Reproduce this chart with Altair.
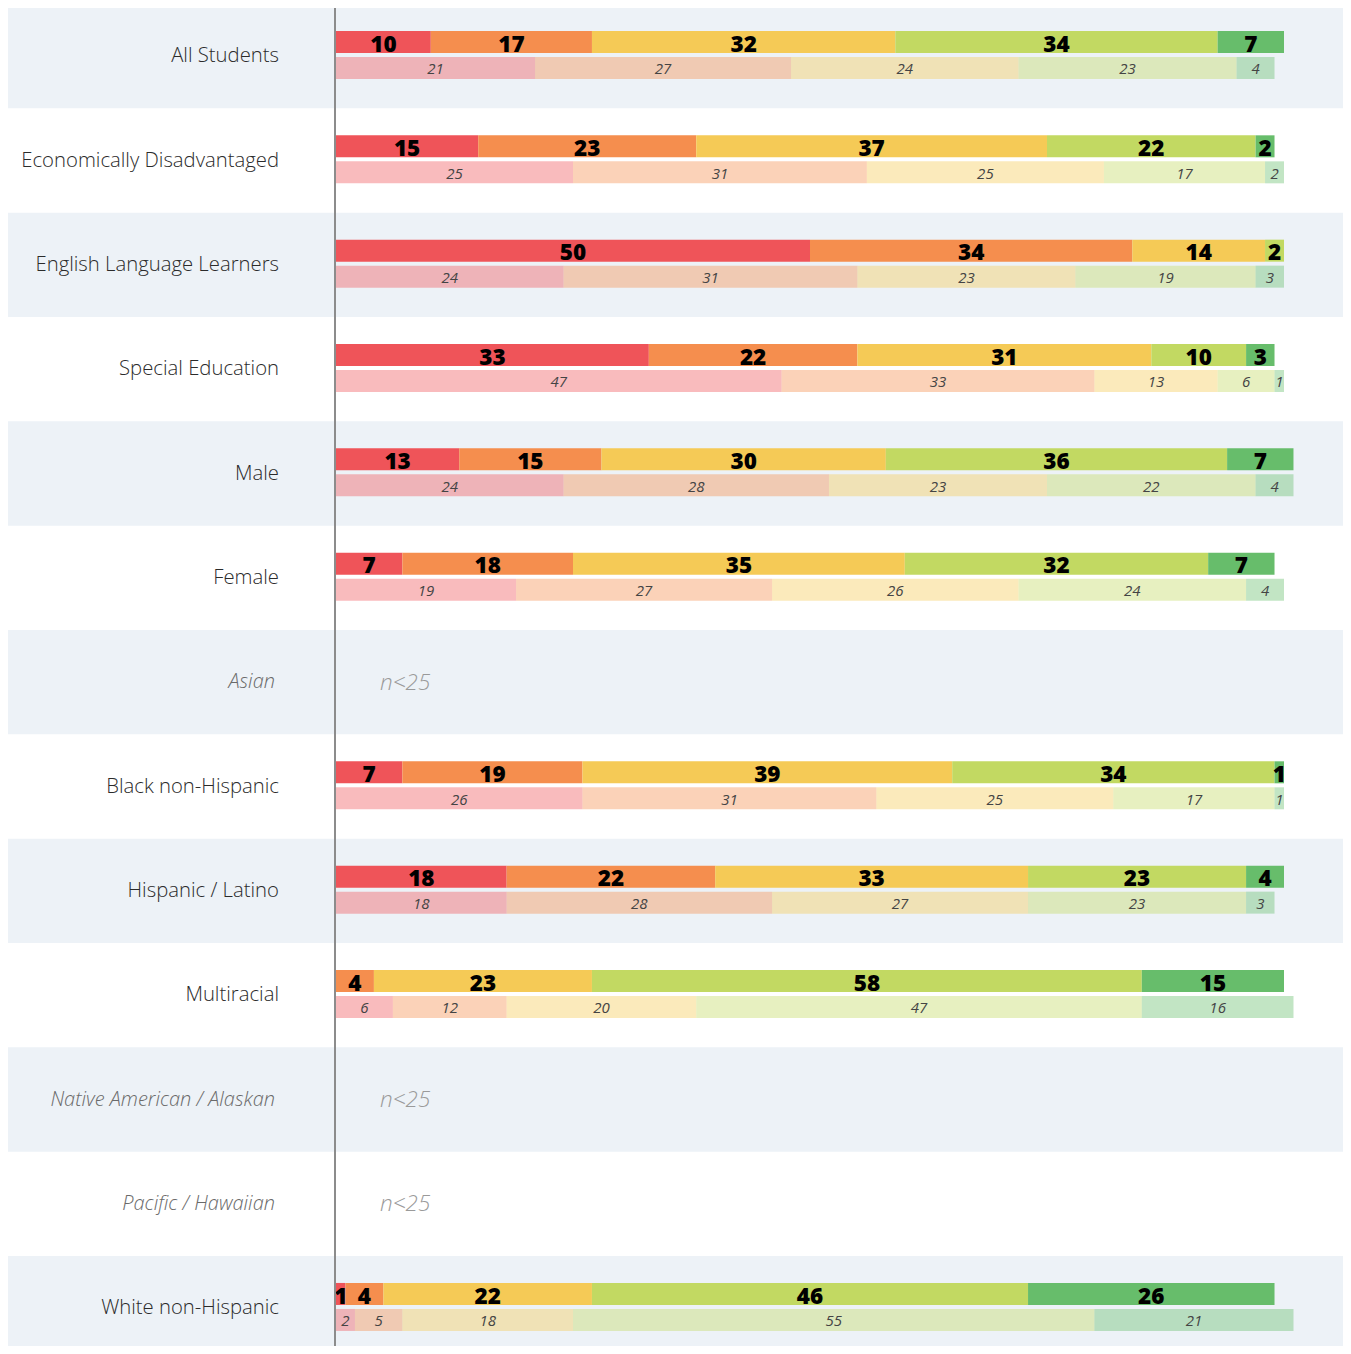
import altair as alt
import pandas as pd

# ---- data ----
groups = [
    "All Students", "Economically Disadvantaged", "English Language Learners",
    "Special Education", "Male", "Female", "Asian", "Black non-Hispanic",
    "Hispanic / Latino", "Multiracial", "Native American / Alaskan",
    "Pacific / Hawaiian", "White non-Hispanic",
]
current_pct = [
    [10, 17, 32, 34, 7],
    [15, 23, 37, 22, 2],
    [50, 34, 14, 2, 0],
    [33, 22, 31, 10, 3],
    [13, 15, 30, 36, 7],
    [7, 18, 35, 32, 7],
    None,
    [7, 19, 39, 34, 1],
    [18, 22, 33, 23, 4],
    [0, 4, 23, 58, 15],
    None,
    None,
    [1, 4, 22, 46, 26],
]
prior_pct = [
    [21, 27, 24, 23, 4],
    [25, 31, 25, 17, 2],
    [24, 31, 23, 19, 3],
    [47, 33, 13, 6, 1],
    [24, 28, 23, 22, 4],
    [19, 27, 26, 24, 4],
    None,
    [26, 31, 25, 17, 1],
    [18, 28, 27, 23, 3],
    [6, 12, 20, 47, 16],
    None,
    None,
    [2, 5, 18, 55, 21],
]
levels = [1, 2, 3, 4, 5]
level_colors = ["#EF5459", "#F58E4E", "#F5CA56", "#C2D962", "#67BD6B"]
suppressed_text = "n<25"

# ---- tables ----
records = []
for g, cur, pri in zip(groups, current_pct, prior_pct):
    for series, arr in (("current", cur), ("prior", pri)):
        if arr is None:
            continue
        for lvl, v in zip(levels, arr):
            records.append({"group": g, "series": series, "level": lvl, "value": v})
df = pd.DataFrame(records)

suppressed = pd.DataFrame(
    {"group": [g for g, c in zip(groups, current_pct) if c is None], "note": suppressed_text}
)
shown = pd.DataFrame({"group": [g for g, c in zip(groups, current_pct) if c is not None]})
banded = pd.DataFrame({"group": groups[::2]})

FONT = "Open Sans"
ROW = 104.33
H = 1338
W = 1007

yscale = alt.Scale(domain=groups, range=[0, ROW * len(groups)], paddingInner=0, paddingOuter=0)
xscale = alt.Scale(domain=[0, 100], range=[0, 948])
Y = alt.Y("group:N", scale=yscale, axis=None)
color = alt.Color("level:O", scale=alt.Scale(domain=levels, range=level_colors), legend=None)

bands = alt.Chart(banded).mark_rect(color="#EDF2F7", yOffset=-4, y2Offset=-4).encode(
    y=Y, x=alt.value(-330), x2=alt.value(W)
)

stacked = alt.Chart(df).transform_stack(
    stack="value", groupby=["group", "series"], as_=["x0", "x1"],
    sort=[alt.SortField("level", order="ascending")],
).transform_calculate(mid="(datum.x0 + datum.x1) / 2").transform_filter("datum.value > 0")

cur = stacked.transform_filter("datum.series == 'current'")
pri = stacked.transform_filter("datum.series == 'prior'")

cur_bars = cur.mark_bar(height=22, yOffset=-18.17).encode(
    x=alt.X("x0:Q", scale=xscale, axis=None), x2="x1:Q", y=Y, color=color
)
pri_bars = pri.mark_bar(height=22, yOffset=7.83, opacity=0.4).encode(
    x=alt.X("x0:Q", scale=xscale, axis=None), x2="x1:Q", y=Y, color=color
)

cur_labels = cur.mark_text(
    font=FONT, fontSize=22.5, fontWeight=800, color="#000000",
    align="center", baseline="alphabetic", dy=-8.5
).encode(x=alt.X("mid:Q", scale=xscale, axis=None), y=Y, text="value:Q")

pri_labels = pri.mark_text(
    font=FONT, fontSize=15, fontStyle="italic", color="#444444",
    align="center", baseline="alphabetic", dy=14.1
).encode(x=alt.X("mid:Q", scale=xscale, axis=None), y=Y, text="value:Q")

row_labels = alt.Chart(shown).mark_text(
    font=FONT, fontSize=20.3, fontWeight=300, color="#2b2b2b",
    align="right", baseline="alphabetic", dy=2.3
).encode(y=Y, x=alt.value(-57), text="group:N")

supp_labels = alt.Chart(suppressed).mark_text(
    font=FONT, fontSize=20, fontWeight=300, fontStyle="italic", color="#6a6a6a",
    align="right", baseline="alphabetic", dy=2.3
).encode(y=Y, x=alt.value(-61), text="group:N")

supp_notes = alt.Chart(suppressed).mark_text(
    font=FONT, fontSize=22.5, fontStyle="italic", fontWeight=300, color="#9a9a9a",
    align="left", baseline="alphabetic", dy=3.5
).encode(y=Y, x=alt.value(44), text="note:N")

axis_line = alt.Chart(banded).mark_rule(color="#8c8c8c", strokeWidth=2).encode(
    x=alt.value(-1), y=alt.value(0), y2=alt.value(H)
)

chart = alt.layer(
    bands, cur_bars, pri_bars, cur_labels, pri_labels,
    row_labels, supp_labels, supp_notes, axis_line
).properties(
    width=W, height=H,
    autosize=alt.AutoSizeParams(type="none"),
    padding={"left": 328, "top": 0, "right": 0, "bottom": 0},
    background="#ffffff",
).configure_view(stroke=None)

chart.save("out.html", embed_options={"renderer": "svg", "actions": False})
